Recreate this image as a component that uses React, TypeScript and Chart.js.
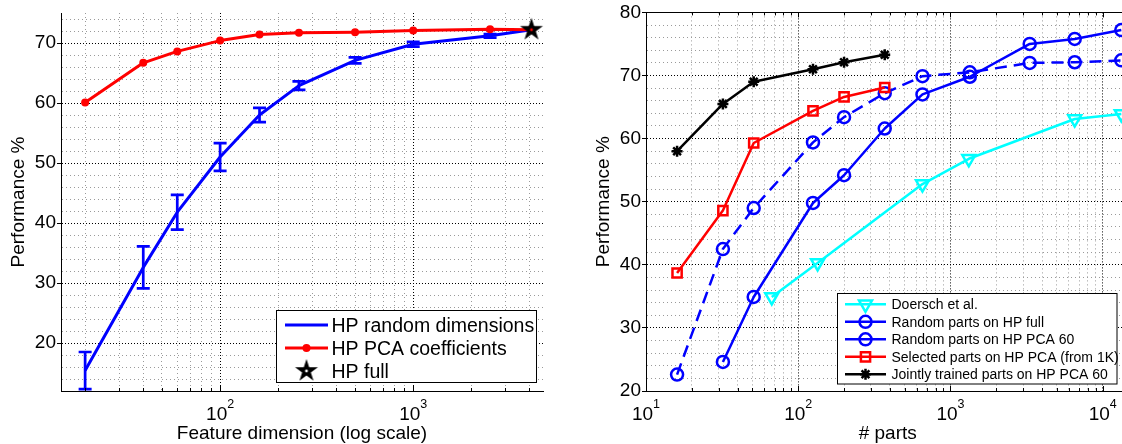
import React, { useEffect, useRef } from 'react';
import { Chart, registerables } from 'chart.js';
import { drawPoint } from 'chart.js/helpers';

Chart.register(...registerables);

const FONT = "'Liberation Sans', Arial, Helvetica, sans-serif";

// ---------------- Left panel data ----------------
const featureDims = [20, 40, 60, 100, 160, 256, 500, 1000, 2500, 4096];
const randomDimsPerf = [15.4, 32.6, 41.8, 51.0, 58.0, 62.9, 67.1, 69.8, 71.2, 72.2];
const randomDimsErr = [3.1, 3.5, 2.9, 2.3, 1.2, 0.7, 0.5, 0.4, 0.3, 0.0];
const pcaCoefPerf = [60.1, 66.7, 68.6, 70.4, 71.4, 71.7, 71.8, 72.1, 72.3, 72.2];
const hpFullDims = [4096];
const hpFullPerf = [72.2];

const leftXTicks = [20, 30, 40, 50, 60, 70, 80, 90, 100, 200, 300, 400, 500, 600, 700, 800, 900, 1000, 2000, 3000, 4000];
const leftXLabelTicks = [100, 1000];
const leftYTicks = [14, 16, 18, 20, 22, 24, 26, 28, 30, 32, 34, 36, 38, 40, 42, 44, 46, 48, 50, 52, 54, 56, 58, 60, 62, 64, 66, 68, 70, 72, 74];
const leftYLabelTicks = [20, 30, 40, 50, 60, 70];

// ---------------- Right panel data ----------------
const doerschParts = [67, 134, 655, 1320, 6550, 13250];
const doerschPerf = [34.9, 40.3, 52.8, 56.8, 63.1, 63.9];
const randomFullParts = [32, 51, 125, 200, 370, 655, 1340, 3315, 6550, 13250];
const randomFullPerf = [24.6, 34.9, 49.8, 54.2, 61.6, 67.0, 69.8, 75.0, 75.8, 77.2];
const randomPcaParts = [16, 32, 51, 125, 200, 370, 655, 1340, 3315, 6550, 13250];
const randomPcaPerf = [22.6, 42.5, 49.0, 59.4, 63.4, 67.2, 69.9, 70.5, 72.0, 72.1, 72.4];
const selectedParts = [16, 32, 51, 125, 200, 370];
const selectedPerf = [38.7, 48.6, 59.3, 64.4, 66.6, 68.1];
const jointParts = [16, 32, 51, 125, 200, 370];
const jointPerf = [58.0, 65.5, 69.0, 71.0, 72.1, 73.3];

const rightXTicks = [10, 20, 30, 40, 50, 60, 70, 80, 90, 100, 200, 300, 400, 500, 600, 700, 800, 900, 1000, 2000, 3000, 4000, 5000, 6000, 7000, 8000, 9000, 10000];
const rightXLabelTicks = [10, 100, 1000, 10000];
const rightYTicks = [20, 22, 24, 26, 28, 30, 32, 34, 36, 38, 40, 42, 44, 46, 48, 50, 52, 54, 56, 58, 60, 62, 64, 66, 68, 70, 72, 74, 76, 78, 80];
const rightYLabelTicks = [20, 30, 40, 50, 60, 70, 80];

const toXY = (xs: number[], ys: number[]) => xs.map((x, i) => ({ x, y: ys[i] }));

function makePentagram(R: number, color: string) {
  const c = document.createElement('canvas');
  const size = Math.ceil(2 * R + 2);
  c.width = size;
  c.height = size;
  const g = c.getContext('2d')!;
  const cx = size / 2;
  const cy = size / 2;
  const r = R * 0.382;
  g.beginPath();
  for (let i = 0; i < 10; i++) {
    const ang = -Math.PI / 2 + (i * Math.PI) / 5;
    const rad = i % 2 === 0 ? R : r;
    const px = cx + rad * Math.cos(ang);
    const py = cy + rad * Math.sin(ang);
    if (i === 0) g.moveTo(px, py);
    else g.lineTo(px, py);
  }
  g.closePath();
  g.fillStyle = color;
  g.fill();
  g.globalCompositeOperation = 'destination-out';
  g.beginPath();
  g.arc(cx, cy, 1.4, 0, Math.PI * 2);
  g.fill();
  return c;
}

function axisConfig(opts: {
  ticks: number[];
  labelTicks: number[];
  majors: number[];
  type: 'linear' | 'logarithmic';
  min: number;
  max: number;
  isX: boolean;
  fitSize: number;
  title: string;
  titlePad: any;
}) {
  const isMajor = (v: any) => opts.majors.includes(v);
  return {
    type: opts.type,
    min: opts.min,
    max: opts.max,
    afterBuildTicks: (s: any) => {
      s.ticks = opts.ticks.map((v) => ({ value: v }));
    },
    afterFit: (s: any) => {
      if (opts.isX) s.height = opts.fitSize;
      else s.width = opts.fitSize;
    },
    ticks: {
      autoSkip: false,
      maxRotation: 0,
      minRotation: 0,
      padding: 1,
      color: '#000',
      font: { family: FONT, size: 19 },
      callback: (v: any) => (opts.isX ? '' : opts.labelTicks.includes(v) ? String(v) : ''),
    },
    grid: {
      color: (ctx: any) => (ctx.tick && isMajor(ctx.tick.value) ? '#000000' : '#9a9a9a'),
      lineWidth: 1,
      drawTicks: !opts.isX,
      tickLength: 4,
      tickWidth: 1,
      tickColor: (ctx: any) => (ctx.tick && opts.labelTicks.includes(ctx.tick.value) ? '#000' : 'rgba(0,0,0,0)'),
    },
    border: {
      display: true,
      color: '#000',
      width: 1,
      dash: (ctx: any) => (ctx.tick && isMajor(ctx.tick.value) ? [1, 2] : [1, 3]),
    },
    title: {
      display: true,
      text: opts.title,
      color: '#000',
      font: { family: FONT, size: 19, lineHeight: 1 },
      padding: opts.titlePad,
    },
  };
}

function drawXTickLabels(chart: any, labelTicks: number[]) {
  const g = chart.ctx;
  const xs = chart.scales.x;
  g.save();
  g.fillStyle = '#000';
  g.textBaseline = 'alphabetic';
  g.textAlign = 'left';
  labelTicks.forEach((v) => {
    const px = xs.getPixelForValue(v);
    const exp = String(Math.round(Math.log10(v)));
    g.font = `19px ${FONT}`;
    const wBase = g.measureText('10').width;
    g.font = `12.5px ${FONT}`;
    const wExp = g.measureText(exp).width;
    const x0 = px - (wBase + wExp) / 2;
    g.font = `19px ${FONT}`;
    g.fillText('10', x0, 419.5);
    g.font = `12.5px ${FONT}`;
    g.fillText(exp, x0 + wBase, 407.5);
  });
  g.restore();
}

function drawInwardXTicks(chart: any, ticks: number[], majors: number[], top: boolean) {
  const g = chart.ctx;
  const xs = chart.scales.x;
  const area = chart.chartArea;
  g.save();
  g.strokeStyle = '#000';
  g.lineWidth = 1;
  ticks.forEach((v) => {
    const px = Math.round(xs.getPixelForValue(v)) + 0.5;
    if (px < area.left + 1 || px > area.right - 1) return;
    const len = majors.includes(v) ? 5 : 3;
    g.beginPath();
    g.moveTo(px, area.bottom);
    g.lineTo(px, area.bottom - len);
    if (top) {
      g.moveTo(px, area.top);
      g.lineTo(px, area.top + len);
    }
    g.stroke();
  });
  g.restore();
}

type LegendEntry = {
  label: string;
  color: string;
  line: boolean;
  lineWidth: number;
  marker?: any;
};

function drawLegend(
  chart: any,
  box: { x: number; y: number; w: number; h: number },
  entries: LegendEntry[],
  rowYs: number[],
  lineX0: number,
  lineX1: number,
  textX: number,
  fontSize: number,
  baselineOffset: number
) {
  const g = chart.ctx;
  g.save();
  g.fillStyle = '#fff';
  g.fillRect(box.x, box.y, box.w, box.h);
  g.strokeStyle = '#000';
  g.lineWidth = 1;
  g.strokeRect(box.x, box.y, box.w, box.h);
  entries.forEach((e, i) => {
    const y = rowYs[i];
    if (e.line) {
      g.strokeStyle = e.color;
      g.lineWidth = e.lineWidth;
      g.setLineDash([]);
      g.beginPath();
      g.moveTo(lineX0, y);
      g.lineTo(lineX1, y);
      g.stroke();
    }
    if (e.marker) {
      g.save();
      g.strokeStyle = e.color;
      g.fillStyle = e.marker.fill ? e.color : 'rgba(0,0,0,0)';
      g.lineWidth = e.marker.borderWidth || 0;
      drawPoint(g, { pointStyle: e.marker.style, rotation: e.marker.rotation || 0, radius: e.marker.radius, borderWidth: e.marker.borderWidth || 0 } as any, (lineX0 + lineX1) / 2, y);
      g.restore();
    }
    g.fillStyle = '#000';
    g.font = `${fontSize}px ${FONT}`;
    g.textBaseline = 'alphabetic';
    g.textAlign = 'left';
    g.fillText(e.label, textX, y + baselineOffset);
  });
  g.restore();
}

function leftConfig(star: HTMLCanvasElement): any {
  const legendEntries: LegendEntry[] = [
    { label: 'HP random dimensions', color: '#0000ff', line: true, lineWidth: 3 },
    { label: 'HP PCA coefficients', color: '#ff0000', line: true, lineWidth: 3, marker: { style: 'circle', radius: 4, fill: true } },
    { label: 'HP full', color: '#000', line: false, lineWidth: 0, marker: { style: star, radius: 12 } },
  ];
  return {
    type: 'line',
    data: {
      datasets: [
        {
          label: 'HP full',
          data: toXY(hpFullDims, hpFullPerf),
          showLine: false,
          pointStyle: star,
          pointRadius: 12,
          order: 0,
          clip: false,
        },
        {
          label: 'HP PCA coefficients',
          data: toXY(featureDims, pcaCoefPerf),
          borderColor: '#ff0000',
          borderWidth: 3,
          pointStyle: 'circle',
          pointRadius: 4,
          pointBorderWidth: 0,
          pointBackgroundColor: '#ff0000',
          borderJoinStyle: 'round',
          order: 1,
          clip: false,
        },
        {
          label: 'HP random dimensions',
          data: toXY(featureDims, randomDimsPerf),
          borderColor: '#0000ff',
          borderWidth: 3,
          pointRadius: 0,
          borderJoinStyle: 'round',
          order: 2,
          clip: false,
        },
      ],
    },
    options: {
      responsive: false,
      animation: false,
      events: [],
      layout: { padding: { top: 12.5, right: 17, bottom: 0, left: 0 } },
      plugins: { legend: { display: false }, tooltip: { enabled: false }, title: { display: false } },
      elements: { line: { tension: 0 } },
      scales: {
        x: axisConfig({
          ticks: leftXTicks,
          labelTicks: leftXLabelTicks,
          majors: leftXLabelTicks,
          type: 'logarithmic',
          min: 15,
          max: 4700,
          isX: true,
          fitSize: 53,
          title: 'Feature dimension (log scale)',
          titlePad: { top: 0, bottom: 1 },
        }),
        y: axisConfig({
          ticks: leftYTicks,
          labelTicks: leftYLabelTicks,
          majors: leftYLabelTicks,
          type: 'linear',
          min: 12,
          max: 75,
          isX: false,
          fitSize: 61,
          title: 'Performance %',
          titlePad: { top: 9.5, bottom: 0 },
        }),
      },
    },
    plugins: [
      {
        id: 'leftDecor',
        afterDatasetDraw(chart: any, args: any) {
          if (args.index !== 2) return;
          const g = chart.ctx;
          const xs = chart.scales.x;
          const ys = chart.scales.y;
          g.save();
          g.strokeStyle = '#0000ff';
          g.lineWidth = 2.7;
          featureDims.forEach((d, i) => {
            const e = randomDimsErr[i];
            if (!e) return;
            const px = xs.getPixelForValue(d);
            const yt = ys.getPixelForValue(randomDimsPerf[i] + e);
            const yb = ys.getPixelForValue(randomDimsPerf[i] - e);
            g.beginPath();
            g.moveTo(px, yt);
            g.lineTo(px, yb);
            g.moveTo(px - 6.5, yt);
            g.lineTo(px + 6.5, yt);
            g.moveTo(px - 6.5, yb);
            g.lineTo(px + 6.5, yb);
            g.stroke();
          });
          g.restore();
        },
        afterDraw(chart: any) {
          drawInwardXTicks(chart, leftXTicks, leftXLabelTicks, false);
          drawXTickLabels(chart, leftXLabelTicks);
          drawLegend(chart, { x: 276.5, y: 310.5, w: 260, h: 72 }, legendEntries, [325, 348, 371], 285, 328, 331.5, 19.5, 6.8);
        },
      },
    ],
  };
}

function rightConfig(): any {
  const markerW = 2.5;
  const legendEntries: LegendEntry[] = [
    { label: 'Doersch et al.', color: '#00ffff', line: true, lineWidth: 2.5, marker: { style: 'triangle', rotation: 180, radius: 7.5, borderWidth: markerW } },
    { label: 'Random parts on HP full', color: '#0000ff', line: true, lineWidth: 2.5, marker: { style: 'circle', radius: 6, borderWidth: markerW } },
    { label: 'Random parts on HP PCA 60', color: '#0000ff', line: true, lineWidth: 2.5, marker: { style: 'circle', radius: 6, borderWidth: markerW } },
    { label: 'Selected parts on HP PCA (from 1K)', color: '#ff0000', line: true, lineWidth: 2.5, marker: { style: 'rect', radius: 6.5, borderWidth: markerW } },
    { label: 'Jointly trained parts on HP PCA 60', color: '#000000', line: true, lineWidth: 2.5, marker: { style: 'star', radius: 5.5, borderWidth: markerW } },
  ];
  const common = {
    borderWidth: 2.5,
    pointBorderWidth: markerW,
    pointBackgroundColor: 'rgba(0,0,0,0)',
    borderJoinStyle: 'round',
    clip: false,
  };
  return {
    type: 'line',
    data: {
      datasets: [
        {
          ...common,
          label: 'Doersch et al.',
          data: toXY(doerschParts, doerschPerf),
          borderColor: '#00ffff',
          pointBorderColor: '#00ffff',
          pointStyle: 'triangle',
          rotation: 180,
          pointRotation: 180,
          pointRadius: 7.5,
          order: 4,
        },
        {
          ...common,
          label: 'Random parts on HP full',
          data: toXY(randomFullParts, randomFullPerf),
          borderColor: '#0000ff',
          pointBorderColor: '#0000ff',
          pointStyle: 'circle',
          pointRadius: 6,
          order: 3,
        },
        {
          ...common,
          label: 'Random parts on HP PCA 60',
          data: toXY(randomPcaParts, randomPcaPerf),
          borderColor: '#0000ff',
          pointBorderColor: '#0000ff',
          borderDash: [12, 7],
          pointStyle: 'circle',
          pointRadius: 6,
          order: 2,
        },
        {
          ...common,
          label: 'Selected parts on HP PCA (from 1K)',
          data: toXY(selectedParts, selectedPerf),
          borderColor: '#ff0000',
          pointBorderColor: '#ff0000',
          pointStyle: 'rect',
          pointRadius: 6.5,
          order: 1,
        },
        {
          ...common,
          label: 'Jointly trained parts on HP PCA 60',
          data: toXY(jointParts, jointPerf),
          borderColor: '#000000',
          pointBorderColor: '#000000',
          pointStyle: 'star',
          pointRadius: 5.5,
          order: 0,
        },
      ],
    },
    options: {
      responsive: false,
      animation: false,
      events: [],
      layout: { padding: { top: 12, right: 30.5, bottom: 0, left: 0 } },
      plugins: { legend: { display: false }, tooltip: { enabled: false }, title: { display: false } },
      elements: { line: { tension: 0 } },
      scales: {
        x: axisConfig({
          ticks: rightXTicks,
          labelTicks: rightXLabelTicks,
          majors: rightXLabelTicks,
          type: 'logarithmic',
          min: 10,
          max: 15000,
          isX: true,
          fitSize: 53,
          title: '# parts',
          titlePad: { top: 0, bottom: 1 },
        }),
        y: axisConfig({
          ticks: rightYTicks,
          labelTicks: rightYLabelTicks,
          majors: rightYLabelTicks,
          type: 'linear',
          min: 20,
          max: 80,
          isX: false,
          fitSize: 86,
          title: 'Performance %',
          titlePad: { top: 34.5, bottom: 0 },
        }),
      },
    },
    plugins: [
      {
        id: 'rightDecor',
        afterDraw(chart: any) {
          const g = chart.ctx;
          const a = chart.chartArea;
          g.save();
          g.strokeStyle = '#000';
          g.lineWidth = 1;
          const ty = Math.floor(a.top) + 0.5;
          g.beginPath();
          g.moveTo(a.left, ty);
          g.lineTo(a.right, ty);
          g.stroke();
          g.restore();
          drawInwardXTicks(chart, rightXTicks, rightXLabelTicks, true);
          drawXTickLabels(chart, rightXLabelTicks);
          drawLegend(chart, { x: 277.5, y: 293.5, w: 279.5, h: 90.5 }, legendEntries, [304.3, 321.8, 339.3, 356.8, 374.3], 285, 326, 331.5, 14, 5);
        },
      },
    ],
  };
}

export default function App() {
  const leftRef = useRef<HTMLCanvasElement>(null);
  const rightRef = useRef<HTMLCanvasElement>(null);

  useEffect(() => {
    Chart.defaults.font.family = FONT;
    const star = makePentagram(12, '#000000');
    const left = new Chart(leftRef.current!, leftConfig(star));
    const right = new Chart(rightRef.current!, rightConfig());
    return () => {
      left.destroy();
      right.destroy();
    };
  }, []);

  return (
    <div
      style={{
        position: 'fixed',
        left: 0,
        top: 0,
        width: 1122,
        height: 444,
        overflow: 'hidden',
        background: '#fff',
      }}
    >
      <canvas
        ref={leftRef}
        width={560}
        height={444}
        style={{ position: 'absolute', left: 0, top: 0, width: 560, height: 444 }}
      />
      <canvas
        ref={rightRef}
        width={600}
        height={444}
        style={{ position: 'absolute', left: 560, top: 0, width: 600, height: 444 }}
      />
    </div>
  );
}
